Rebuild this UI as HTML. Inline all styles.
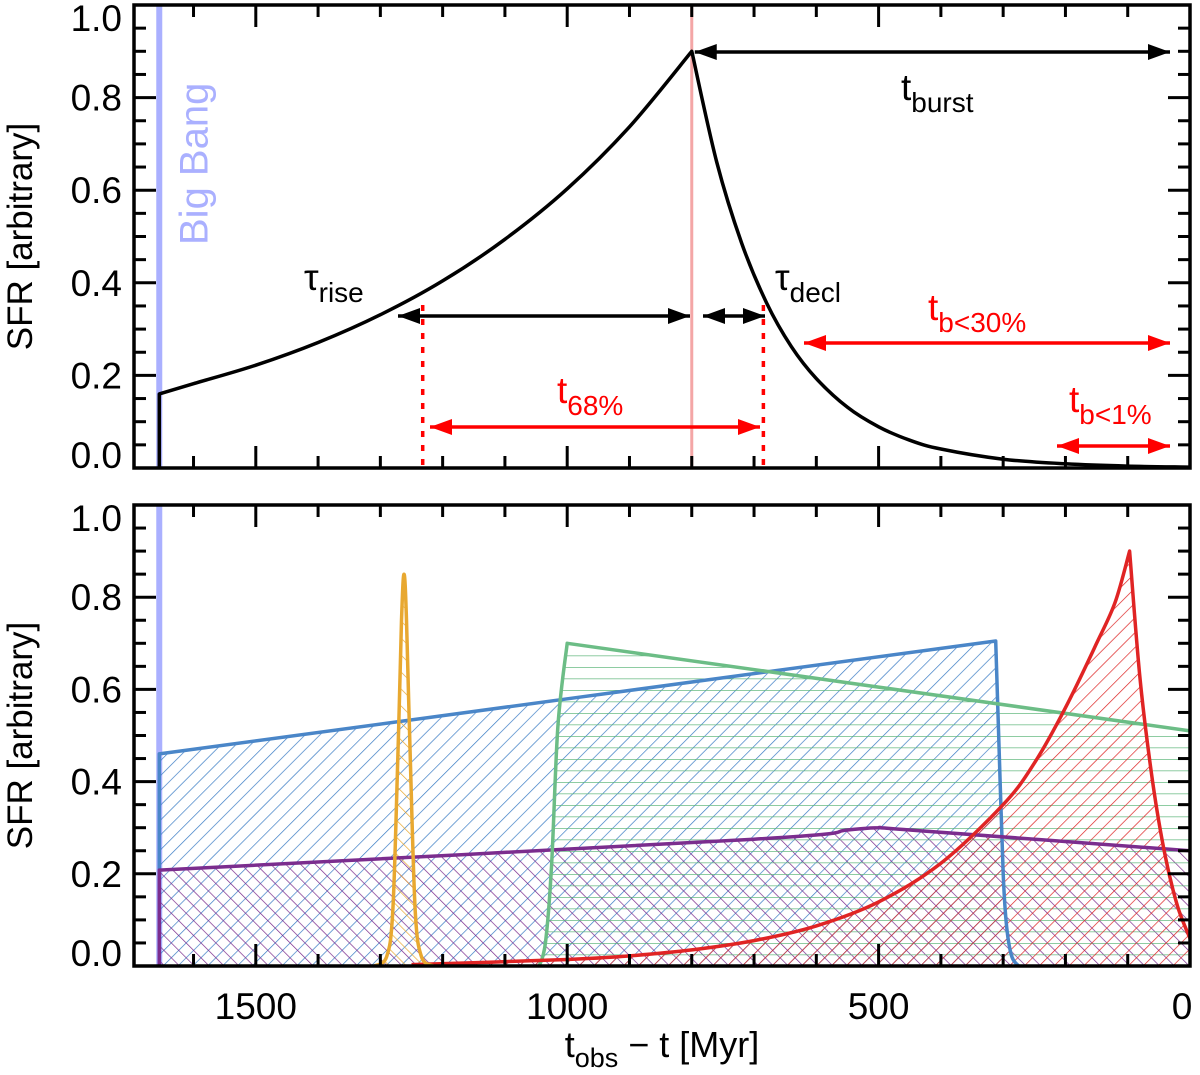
<!DOCTYPE html>
<html><head><meta charset="utf-8"><style>
html,body{margin:0;padding:0;background:#fff}
svg{display:block;font-family:"Liberation Sans",sans-serif}
</style></head><body>
<svg id="chart" width="1200" height="1075" viewBox="0 0 1200 1075" xmlns="http://www.w3.org/2000/svg">
<defs>
<pattern id="hBlue" patternUnits="userSpaceOnUse" width="10.5" height="10.5" patternTransform="rotate(45)"><line x1="0" y1="0" x2="0" y2="10.5" stroke="#3a7cc4" stroke-width="1.4"/></pattern>
<pattern id="hPurple" patternUnits="userSpaceOnUse" width="10.5" height="10.5" patternTransform="rotate(-45)"><line x1="0" y1="0" x2="0" y2="10.5" stroke="#7a2a8c" stroke-width="1.4"/></pattern>
<pattern id="hGreen" patternUnits="userSpaceOnUse" width="11" height="11.5"><line x1="0" y1="0" x2="11" y2="0" stroke="#5cb57a" stroke-width="1.4"/></pattern>
<pattern id="hRed" patternUnits="userSpaceOnUse" width="10.5" height="10.5" patternTransform="rotate(45)"><line x1="0" y1="0" x2="0" y2="10.5" stroke="#dd2222" stroke-width="1.4"/></pattern>
<pattern id="hOrange" patternUnits="userSpaceOnUse" width="12" height="12" patternTransform="rotate(-45)"><line x1="0" y1="0" x2="0" y2="12" stroke="#e8a830" stroke-width="1.4"/></pattern>
<marker id="ahR" markerWidth="22" markerHeight="16" refX="22" refY="8" orient="auto-start-reverse" markerUnits="userSpaceOnUse"><path d="M0,0 L22,8 L0,16 Z" fill="#f00"/></marker>
<marker id="ahK2" markerWidth="22" markerHeight="16" refX="22" refY="8" orient="auto-start-reverse" markerUnits="userSpaceOnUse"><path d="M0,0 L22,8 L0,16 Z" fill="#000"/></marker>
</defs>
<g id="layer"></g>
</svg>
<script>
// ---- data ----
const topT = [1655,1655,1600,1500,1400,1300,1200,1100,1000,900,800,760,720,680,640,600,550,500,450,400,300,200,100,0];
const topV = [0,0.16,0.182,0.222,0.271,0.331,0.404,0.494,0.603,0.737,0.9,0.661,0.486,0.357,0.262,0.193,0.131,0.089,0.060,0.041,0.019,0.009,0.004,0.002];
const blueT = [1655,1655,312,306,300,294,286,275];
const blueV = [0,0.46,0.705,0.45,0.2,0.08,0.02,0];
const greenT = [1045,1035,1025,1015,1000,0];
const greenV = [0,0.05,0.22,0.52,0.70,0.51];
const purpleT = [1655,1655,700,550,500,450,0];
const purpleV = [0,0.208,0.275,0.295,0.30,0.295,0.25];
const orangeT = [1310,1290,1280,1272,1266,1262,1258,1252,1244,1234,1215];
const orangeV = [0,0.02,0.12,0.45,0.75,0.85,0.75,0.45,0.12,0.02,0];
const redT = [1250,1000,900,800,700,600,500,400,300,250,200,150,120,97,80,60,40,20,0];
const redV = [0.003,0.014,0.022,0.035,0.055,0.087,0.139,0.223,0.35,0.44,0.56,0.70,0.79,0.9,0.62,0.40,0.24,0.13,0.06];
const xTicks = [1500,1000,500,0];
const xTickLabels = ["1500","1000","500","0"];
const yTicks = [0,0.2,0.4,0.6,0.8,1.0];
const yTickLabels = ["0.0","0.2","0.4","0.6","0.8","1.0"];
const bigBangT = 1655;
const peakT = 800;

// ---- axes ----
const L=134,R=1190;
const x = t => R - 0.6228*t;
const panels=[{top:5,bot:468},{top:505,bot:966}];
const yF = p => v => p.bot - (p.bot-p.top)*v;
const NS="http://www.w3.org/2000/svg";
const layer=document.getElementById('layer');
function mk(tag,attrs,parent){const e=document.createElementNS(NS,tag);for(const k in attrs)e.setAttribute(k,attrs[k]);(parent||layer).appendChild(e);return e;}
function toXY(T,V,y){return T.map((t,i)=>[x(t),y(V[i])]);}
// path; smooth segments via Catmull-Rom except around sharp corners (listed indexes)
function pathD(P,smooth,corners){
  corners=corners||[];
  let d='M'+P[0][0].toFixed(1)+','+P[0][1].toFixed(1);
  for(let i=0;i<P.length-1;i++){
    const p1=P[i],p2=P[i+1];
    if(!smooth){d+=' L'+p2[0].toFixed(1)+','+p2[1].toFixed(1);continue;}
    const p0=(i>0&&!corners.includes(i))?P[i-1]:p1;
    const p3=(i+2<P.length&&!corners.includes(i+1))?P[i+2]:p2;
    const c1=[p1[0]+(p2[0]-p0[0])/6,p1[1]+(p2[1]-p0[1])/6];
    const c2=[p2[0]-(p3[0]-p1[0])/6,p2[1]-(p3[1]-p1[1])/6];
    d+=' C'+c1.map(v=>v.toFixed(1)).join(',')+' '+c2.map(v=>v.toFixed(1)).join(',')+' '+p2[0].toFixed(1)+','+p2[1].toFixed(1);
  }
  return d;
}

// bottom panel series
const p2=panels[1], y2=yF(p2);
const series=[
 {T:blueT,V:blueV,fill:'url(#hBlue)',c:'#4a86c8',n:'blue',s:true,k:[0,1,2]},
 {T:purpleT,V:purpleV,fill:'url(#hPurple)',c:'#7b2d8e',n:'purple',s:true,k:[0,1]},
 {T:greenT,V:greenV,fill:'url(#hGreen)',c:'#6cbd86',n:'green',s:true,k:[4]},
 {T:redT,V:redV,fill:'url(#hRed)',c:'#e02424',n:'red',s:true,k:[13]},
 {T:orangeT,V:orangeV,fill:'url(#hOrange)',c:'#e8a830',n:'orange',s:true,k:[]}
];
const g2=mk('g',{});


mk('line',{x1:x(bigBangT),y1:p2.top,x2:x(bigBangT),y2:p2.bot,stroke:'#aab0ff','stroke-width':6},g2);
series.forEach(s=>{
  const P=toXY(s.T,s.V,y2);
  const d=pathD(P,s.s,s.k)+' L'+P[P.length-1][0].toFixed(1)+','+y2(0)+' L'+P[0][0].toFixed(1)+','+y2(0)+' Z';
  const a=mk('path',{d:d,fill:s.fill,stroke:'none'},g2);
  
  
});
series.forEach(s=>{
  const l=mk('path',{d:pathD(toXY(s.T,s.V,y2),s.s,s.k),fill:'none',stroke:s.c,'stroke-width':3.5,'stroke-linejoin':'round'},g2);
  
  
});

// top panel
const p1=panels[0], y1=yF(p1);
const g1=mk('g',{});


mk('line',{x1:x(bigBangT),y1:p1.top,x2:x(bigBangT),y2:p1.bot,stroke:'#aab0ff','stroke-width':6},g1);
const bb=mk('text',{x:0,y:0,fill:'#aab0ff','font-size':40,transform:`translate(${x(bigBangT)+48},245) rotate(-90)`},g1);
bb.textContent='Big Bang';


mk('line',{x1:x(peakT),y1:p1.top,x2:x(peakT),y2:p1.bot,stroke:'#f4a6a6','stroke-width':3},g1);
const tl=mk('path',{d:pathD(toXY(topT,topV,y1),true,[0,1,10]),fill:'none',stroke:'#000','stroke-width':3.5,'stroke-linejoin':'round'},g1);


[1232,685].forEach(t=>{mk('line',{x1:x(t),y1:305,x2:x(t),y2:p1.bot,stroke:'#f00','stroke-width':3.5,'stroke-dasharray':'6,8'},g1);});
function arrow(x1,x2,yy,col,name){const a=mk('line',{x1,y1:yy,x2,y2:yy,stroke:col,'stroke-width':3.5,'marker-start':col=='#f00'?'url(#ahR)':'url(#ahK2)','marker-end':col=='#f00'?'url(#ahR)':'url(#ahK2)'},g1);}
arrow(x(peakT)+3,1170,52,'#000','t-burst-arrow');
arrow(398,690,316,'#000','tau-rise-arrow');
arrow(703,765,316,'#000','tau-decl-arrow');
arrow(430,760,427,'#f00','t68-arrow');
arrow(804,1170,343,'#f00','t-b30-arrow');
arrow(1057,1170,446,'#f00','t-b1-arrow');
function lab(xx,yy,main,sub,col,name){const t=mk('text',{x:xx,y:yy,fill:col,'font-size':37},g1);
 const a=mk('tspan',{},t);a.textContent=main;const b=mk('tspan',{'font-size':28,dy:12},t);b.textContent=sub;}
lab(901,100,'t','burst','#000','t-burst-label');
lab(304,290,'τ','rise','#000','tau-rise-label');
lab(775,290,'τ','decl','#000','tau-decl-label');
lab(557,403,'t','68%','#f00','t68-label');
lab(928,320,'t','b<30%','#f00','t-b30-label');
lab(1069,412,'t','b<1%','#f00','t-b1-label');

// axes frames & ticks
panels.forEach((p,pi)=>{
  const y=yF(p);
  const ax=mk('g',{});
  
  
  mk('rect',{x:L,y:p.top,width:R-L,height:p.bot-p.top,fill:'none',stroke:'#000','stroke-width':3.5},ax);
  for(let t=0;t<=1600;t+=100){const major=t%500==0;const len=major?22:12;const xx=x(t);
    mk('line',{x1:xx,y1:p.bot,x2:xx,y2:p.bot-len,stroke:'#000','stroke-width':3},ax);
    mk('line',{x1:xx,y1:p.top,x2:xx,y2:p.top+len,stroke:'#000','stroke-width':3},ax);}
  for(let i=0;i<=20;i++){const v=i*0.05;const major=i%4==0;const len=major?22:12;const yy=y(v);
    mk('line',{x1:L,y1:yy,x2:L+len,y2:yy,stroke:'#000','stroke-width':3},ax);
    mk('line',{x1:R,y1:yy,x2:R-len,y2:yy,stroke:'#000','stroke-width':3},ax);}
  yTicks.forEach((v,i)=>{let yy=y(v)+13;if(i==0)yy=p.bot;if(i==yTicks.length-1)yy=p.top+26;
    const t=mk('text',{x:122,y:yy,'text-anchor':'end','font-size':37,fill:'#000'},ax);t.textContent=yTickLabels[i];
    });
  const yt=mk('text',{x:0,y:0,'font-size':35,'text-anchor':'middle',fill:'#000',transform:`translate(32,${(p.top+p.bot)/2}) rotate(-90)`},ax);
  yt.textContent='SFR [arbitrary]';
  
});
xTicks.forEach((t,i)=>{const tx=mk('text',{x:Math.min(x(t),1182),y:1019,'text-anchor':'middle','font-size':37,fill:'#000'});tx.textContent=xTickLabels[i];
  });
const xt=mk('text',{x:662,y:1057,'text-anchor':'middle','font-size':36,fill:'#000'});

const s1=mk('tspan',{},xt);s1.textContent='t';const s2=mk('tspan',{'font-size':27,dy:10},xt);s2.textContent='obs';const s3=mk('tspan',{dy:-10},xt);s3.textContent=' − t [Myr]';
</script>
</body></html>
